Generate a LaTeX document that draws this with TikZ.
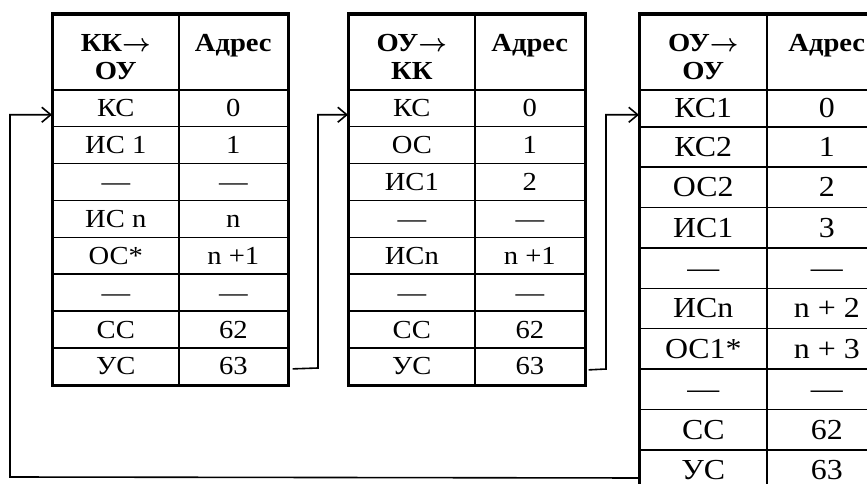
\documentclass[tikz,border=0pt]{standalone}
\usepackage{amsmath}
\usepackage{fontspec}
\setmainfont{Liberation Serif}[FakeStretch=1.1]
\usetikzlibrary{positioning,
        arrows.meta}

\newcommand{\dirarrow}{$\boldsymbol{\rightarrow}$}

\tikzset{
    hcell/.style={draw, line width=1.6pt, anchor=north west, minimum height=75pt, inner sep=0pt,
        align=center, font=\fontsize{26}{28}\selectfont\bfseries},
    cell/.style={draw, line width=1.6pt, anchor=north west, inner sep=0pt,
        text height=17pt, text depth=0pt, font=\fontsize{26}{28}\selectfont},
    bigcell/.style={cell, text height=19pt, font=\fontsize{29}{31}\selectfont},
    frame/.style={draw, line width=3pt},
    link/.style={line width=1.6pt, -{Straight Barb[length=9pt,width=15pt]}}
}

\begin{document}
\begin{tikzpicture}[x=1pt,y=-1pt]
    \useasboundingbox (0,0) rectangle (867,484);
    \clip (0,0) rectangle (867,484);

    % KK -> OU
    \node [hcell, minimum width=126pt] (t1h1) at (52,14) {\rule{0pt}{27pt}КК\dirarrow\\ОУ};
    \node [hcell, minimum width=109pt] (t1h2) at (178,14) {\rule{0pt}{27pt}Адрес\\\phantom{ОУ}};
    \foreach \txt/\adr [count=\i] in {КС/0, ИС 1/1, —/—, ИС n/n, ОС*/n +1, —/—, СС/62, УС/63} {
        \node [cell, minimum width=126pt, minimum height=36.9pt] (t1a\i) at (52,{89+36.875*(\i-1)}) {\txt};
        \node [cell, minimum width=109pt, minimum height=36.9pt] (t1b\i) at (178,{89+36.875*(\i-1)}) {\adr};
    }
    \draw [frame] (t1h1.north west) rectangle (t1b8.south east);

    % OU -> KK
    \node [hcell, minimum width=126pt] (t2h1) at (348,14) {\rule{0pt}{27pt}ОУ\dirarrow\\КК};
    \node [hcell, minimum width=110pt] (t2h2) at (474,14) {\rule{0pt}{27pt}Адрес\\\phantom{ОУ}};
    \foreach \txt/\adr [count=\i] in {КС/0, ОС/1, ИС1/2, —/—, ИСn/n +1, —/—, СС/62, УС/63} {
        \node [cell, minimum width=126pt, minimum height=36.9pt] (t2a\i) at (348,{89+36.875*(\i-1)}) {\txt};
        \node [cell, minimum width=110pt, minimum height=36.9pt] (t2b\i) at (474,{89+36.875*(\i-1)}) {\adr};
    }
    \draw [frame] (t2h1.north west) rectangle (t2b8.south east);

    % OU -> OU
    \node [hcell, minimum width=127pt] (t3h1) at (639,14) {\rule{0pt}{27pt}ОУ\dirarrow\\ОУ};
    \node [hcell, minimum width=120pt] (t3h2) at (766,14) {\rule{0pt}{27pt}Адрес\\\phantom{ОУ}};
    \foreach \txt/\adr [count=\i] in {КС1/0, КС2/1, ОС2/2, ИС1/3, —/—, ИСn/n + 2, ОС1*/n + 3, —/—, СС/62, УС/63} {
        \pgfmathsetmacro\ry{ifthenelse(\i==1,89,126+40.375*(\i-2))}
        \pgfmathsetmacro\rh{ifthenelse(\i==1,37,40.375)}
        \node [bigcell, minimum width=127pt, minimum height=\rh pt] (t3a\i) at (639,\ry) {\txt};
        \node [bigcell, minimum width=120pt, minimum height=\rh pt] (t3b\i) at (766,\ry) {\adr};
    }
    \draw [frame] (t3h1.north west) rectangle (t3b10.south east);

    \coordinate (fb) at (10,477);
    \coordinate (up1) at (318,368);
    \coordinate (up2) at (606,369);

    \draw [link] ([yshift=-8pt]t3a10.west) -- (fb) |- ([yshift=-6.5pt]t1a1.west);
    \draw [link] ([xshift=4pt,yshift=-2.5pt]t1b8.east) -- (up1) |- ([yshift=-6.5pt]t2a1.west);
    \draw [link] ([xshift=3pt,yshift=-3.5pt]t2b8.east) -- (up2) |- ([yshift=-6.5pt]t3a1.west);
\end{tikzpicture}
\end{document}
